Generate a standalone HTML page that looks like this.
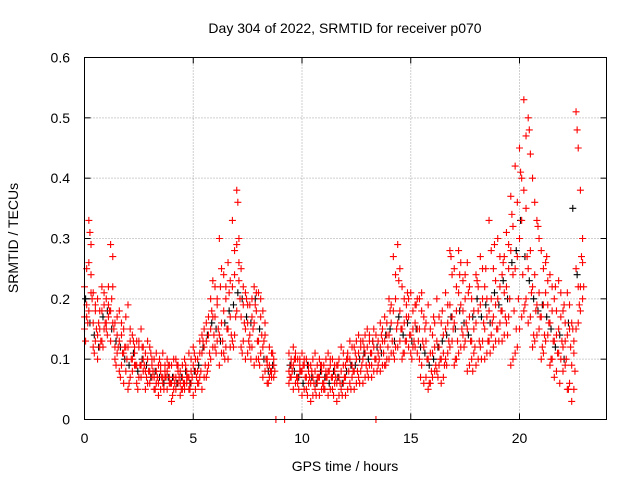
<!DOCTYPE html>
<html><head><meta charset="utf-8"><style>
body{margin:0;background:#fff;}
svg{display:block;font-family:"Liberation Sans",sans-serif;}
</style></head><body>
<svg id="chart" width="640" height="480" viewBox="0 0 640 480">
<rect x="0" y="0" width="640" height="480" fill="#fff"/>
<g id="grid"></g>
<g id="black"></g>
<g id="red"></g>
<rect x="84.5" y="57.5" width="522" height="362" fill="none" stroke="#000" stroke-width="1"/>
<g id="ticks"></g>
<text x="345" y="33" font-size="14" text-anchor="middle">Day 304 of 2022, SRMTID for receiver p070</text>
<text x="345" y="471" font-size="14" text-anchor="middle">GPS time / hours</text>
<text x="18" y="238" font-size="14" text-anchor="middle" transform="rotate(-90 18 238)">SRMTID / TECUs</text>
</svg>
<script>
const hours=[0,0.2,0.4,0.6,0.8,1,1.2,1.4,1.6,1.8,2,2.2,2.4,2.6,2.8,3,3.2,3.4,3.6,3.8,4,4.2,4.4,4.6,4.8,5,5.2,5.4,5.6,5.8,6,6.2,6.4,6.6,6.8,7,7.2,7.4,7.6,7.8,8,8.2,8.4,8.6,8.8,9,9.2,9.4,9.6,9.8,10,10.2,10.4,10.6,10.8,11,11.2,11.4,11.6,11.8,12,12.2,12.4,12.6,12.8,13,13.2,13.4,13.6,13.8,14,14.2,14.4,14.6,14.8,15,15.2,15.4,15.6,15.8,16,16.2,16.4,16.6,16.8,17,17.2,17.4,17.6,17.8,18,18.2,18.4,18.6,18.8,19,19.2,19.4,19.6,19.8,20,20.2,20.4,20.6,20.8,21,21.2,21.4,21.6,21.8,22,22.2,22.4,22.6,22.8];
const redA=[.22,.33,.12,.10,.13,.15,.29,.10,.08,.06,.05,.08,.06,.07,.05,.06,.05,.04,.06,.05,.03,.05,.04,.06,.05,.04,.06,.05,.07,.10,.12,.09,.11,.10,.13,.38,.12,.10,.14,.09,.13,.07,.06,.08,0,null,0,.08,.05,.07,.04,.05,.03,.05,.04,.06,.04,.05,.03,.05,.04,.06,.05,.07,.06,.08,.07,0,.08,.09,.10,.11,.12,.10,.13,.11,.12,.10,.06,.05,.07,.08,.06,.10,.12,.09,.11,.14,.08,.10,.09,.12,.10,.13,.12,.15,.13,.16,.09,.11,.15,.18,.16,.12,.14,.10,.13,.09,.07,.11,.08,.05,.03,.15,.18];
const redB=[.15,.18,.16,.14,.18,.20,.13,.16,.13,.11,.12,.10,.13,.09,.11,.08,.07,.09,.07,.08,.06,.07,.08,.05,.07,.09,.10,.11,.13,.20,.17,.14,.18,.15,.22,.18,.25,.15,.19,.16,.21,.12,.10,.11,null,null,null,.11,.09,.10,.08,.07,.06,.08,.07,.09,.08,.07,.06,.08,.09,.10,.08,.11,.10,.12,.11,.10,.12,.13,.14,.18,.16,.15,.19,.14,.16,.20,.12,.10,.11,.13,.10,.15,.19,.16,.21,.18,.15,.13,.16,.19,.15,.18,.17,.20,.24,.22,.28,.25,.30,.38,.25,.22,.19,.17,.21,.16,.13,.15,.12,.14,.09,.25,.22];
const redC=[.17,.26,.21,.20,.22,.16,.18,.12,.18,.15,.19,.14,.09,.15,.08,.12,.10,.06,.11,.10,.09,.10,.06,.10,.11,.12,.08,.14,.16,.15,.22,.30,.24,.26,.33,.29,.17,.21,.12,.22,.10,.18,.09,.07,null,null,null,.06,.12,.06,.11,.10,.09,.11,.10,.05,.11,.10,.09,.12,.07,.13,.12,.14,.13,.15,.09,.14,.16,.17,.20,.27,.29,.22,.17,.21,.19,.15,.17,.19,.14,.20,.16,.21,.28,.25,.28,.23,.26,.20,.24,.27,.22,.33,.25,.30,.18,.31,.37,.42,.45,.53,.50,.40,.33,.28,.26,.24,.20,.23,.18,.21,.16,.51,.38];
const redD=[.19,.24,.13,.12,.15,.17,.22,.11,.09,.08,.07,.09,.07,.08,.06,.07,.06,.05,.07,.06,.05,.06,.05,.07,.06,.05,.07,.07,.09,.12,.13,.11,.12,.12,.14,.30,.13,.11,.12,.10,.11,.08,.07,.07,null,null,null,.07,.06,.08,.05,.06,.04,.06,.05,.07,.05,.06,.04,.06,.05,.07,.06,.08,.07,.09,.08,.09,.09,.10,.11,.12,.13,.11,.12,.12,.11,.09,.07,.06,.08,.09,.07,.11,.13,.10,.12,.13,.09,.11,.10,.13,.11,.14,.13,.16,.14,.17,.10,.12,.17,.20,.17,.13,.15,.11,.14,.10,.08,.10,.09,.06,.05,.16,.20];
const redE=[.17,.21,.18,.15,.19,.22,.16,.14,.14,.12,.13,.11,.12,.10,.10,.09,.08,.08,.08,.07,.07,.08,.07,.06,.08,.08,.11,.12,.14,.17,.19,.16,.20,.17,.24,.23,.19,.16,.17,.18,.17,.14,.09,.10,null,null,null,.09,.10,.09,.09,.08,.07,.07,.08,.08,.09,.08,.07,.09,.10,.09,.10,.12,.11,.13,.12,.11,.13,.14,.16,.20,.18,.16,.17,.15,.15,.18,.13,.11,.12,.12,.11,.16,.17,.18,.19,.20,.17,.15,.18,.20,.17,.20,.19,.22,.21,.25,.24,.27,.33,.35,.28,.24,.21,.19,.19,.18,.14,.17,.13,.15,.11,.22,.26];
const redF=[.25,.29,.19,.18,.21,.19,.27,.17,.16,.17,.15,.12,.13,.12,.13,.10,.11,.09,.09,.09,.10,.09,.09,.08,.10,.10,.13,.15,.17,.23,.20,.25,.22,.23,.28,.26,.22,.19,.20,.21,.20,.16,.12,.09,null,null,null,.10,.11,.10,.10,.09,.10,.09,.09,.10,.10,.09,.10,.11,.11,.12,.13,.13,.14,.14,.15,.13,.15,.16,.19,.24,.25,.20,.20,.18,.20,.21,.16,.15,.16,.17,.14,.19,.24,.22,.26,.24,.22,.18,.22,.25,.20,.28,.23,.27,.27,.29,.32,.36,.40,.47,.44,.36,.30,.25,.23,.22,.18,.21,.16,.19,.13,.45,.30];
const redG=[.16,.20,.15,.13,.16,.18,.15,.12,.11,.10,.10,.09,.09,.09,.08,.08,.07,.07,.07,.06,.06,.07,.06,.07,.07,.07,.08,.09,.11,.14,.15,.13,.15,.14,.17,.20,.16,.13,.15,.13,.14,.10,.08,.08,null,null,null,.08,.07,.08,.07,.07,.06,.07,.06,.07,.07,.07,.06,.07,.08,.08,.08,.09,.09,.11,.10,.10,.11,.12,.13,.15,.15,.13,.14,.13,.13,.13,.10,.08,.09,.10,.09,.13,.15,.13,.15,.16,.13,.12,.13,.16,.13,.16,.15,.18,.17,.20,.18,.20,.24,.27,.21,.18,.17,.14,.16,.13,.11,.13,.10,.12,.08,.19,.22];
const redH=[.13,.31,.11,.16,.12,.14,.20,.09,.07,.12,.06,.13,.05,.12,.07,.11,.05,.10,.05,.09,.04,.09,.05,.09,.05,.11,.06,.13,.08,.18,.11,.22,.10,.21,.12,.36,.11,.20,.10,.19,.09,.13,.06,.11,null,null,null,.07,.10,.05,.09,.04,.08,.04,.09,.05,.08,.04,.09,.04,.10,.05,.11,.06,.12,.07,.13,.08,.14,.09,.18,.10,.23,.11,.21,.10,.19,.07,.15,.06,.17,.07,.18,.09,.27,.10,.24,.12,.21,.08,.23,.10,.25,.11,.29,.13,.26,.14,.34,.15,.41,.19,.48,.14,.32,.12,.27,.10,.22,.06,.19,.05,.15,.48,.27];
const blackD=[.20,.16,.14,.12,.17,.18,.15,.13,.12,.10,.09,.11,.08,.10,.09,.07,.08,.07,.06,.07,.07,.06,.07,.08,.06,.08,.09,.12,.14,.16,.15,.13,.16,.18,.19,.21,.20,.17,.16,.20,.15,.10,.08,.09,null,null,null,.09,.08,.07,.06,.09,.07,.06,.08,.07,.06,.08,.07,.06,.08,.09,.09,.10,.11,.10,.13,.12,.11,.14,.15,.13,.17,.14,.16,.13,.15,.12,.11,.09,.10,.12,.13,.14,.17,.15,.18,.16,.14,.17,.20,.17,.19,.16,.21,.19,.23,.20,.26,.28,.33,.27,.23,.20,.18,.19,.17,.15,.12,.14,.10,.16,.35,.24];
const yTicks=[0,0.1,0.2,0.3,0.4,0.5,0.6];
const yLabels=["0","0.1","0.2","0.3","0.4","0.5","0.6"];
const xTicks=[0,5,10,15,20];
const xLabels=["0","5","10","15","20"];

const X0=84.5,X1=606.5,Y0=419.5,Y1=57.5;
const sx=h=>X0+(X1-X0)*h/24;
const sy=v=>Y0-(Y0-Y1)*v/0.6;
const NS="http://www.w3.org/2000/svg";
const grid=document.getElementById('grid'),ticks=document.getElementById('ticks');
function mk(tag,attrs,parent){const e=document.createElementNS(NS,tag);for(const k in attrs)e.setAttribute(k,attrs[k]);parent.appendChild(e);return e;}
yTicks.forEach((v,i)=>{
  const y=sy(v);
  if(i>0&&i<yTicks.length-1){const g=mk('line',{x1:X0,x2:X1,y1:y,y2:y,stroke:'#a0a0a0','stroke-dasharray':'1,2'},grid);
  
  }
  mk('line',{x1:X0,x2:X0+6,y1:y,y2:y,stroke:'#000'},ticks);
  mk('line',{x1:X1-6,x2:X1,y1:y,y2:y,stroke:'#000'},ticks);
  const t=mk('text',{x:70,y:y+5,'font-size':14,'text-anchor':'end'},ticks);
  t.textContent=yLabels[i];
  
  
});
xTicks.forEach((h,i)=>{
  const x=sx(h);
  if(i>0){const g=mk('line',{x1:x,x2:x,y1:Y0,y2:Y1,stroke:'#a0a0a0','stroke-dasharray':'1,2'},grid);
  
  }
  mk('line',{x1:x,x2:x,y1:Y0,y2:Y0-6,stroke:'#000'},ticks);
  mk('line',{x1:x,x2:x,y1:Y1,y2:Y1+6,stroke:'#000'},ticks);
  const t=mk('text',{x:x,y:443,'font-size':14,'text-anchor':'middle'},ticks);
  t.textContent=xLabels[i];
  
  
});
function plus(g,h,v,color){
  if(v===null||v===undefined)return;
  const x=sx(h),y=sy(v);
  const p=mk('path',{d:`M${x-3.5},${y}H${x+3.5}M${x},${y-3.5}V${y+3.5}`,stroke:color,'stroke-width':1.1,fill:'none'},g);
  
  
}
const gb=document.getElementById('black'),gr=document.getElementById('red');
hours.forEach((h,i)=>plus(gb,h+0.05,blackD[i],'#000'));
hours.forEach((h,i)=>{
  plus(gr,h,redA[i],'#ff0000');plus(gr,h,redB[i],'#ff0000');plus(gr,h,redC[i],'#ff0000');
  plus(gr,h+0.1,redD[i],'#ff0000');plus(gr,h+0.1,redE[i],'#ff0000');plus(gr,h+0.1,redF[i],'#ff0000');
  plus(gr,h+0.15,redG[i],'#ff0000');plus(gr,h+0.05,redH[i],'#ff0000');
});
</script>
</body></html>
